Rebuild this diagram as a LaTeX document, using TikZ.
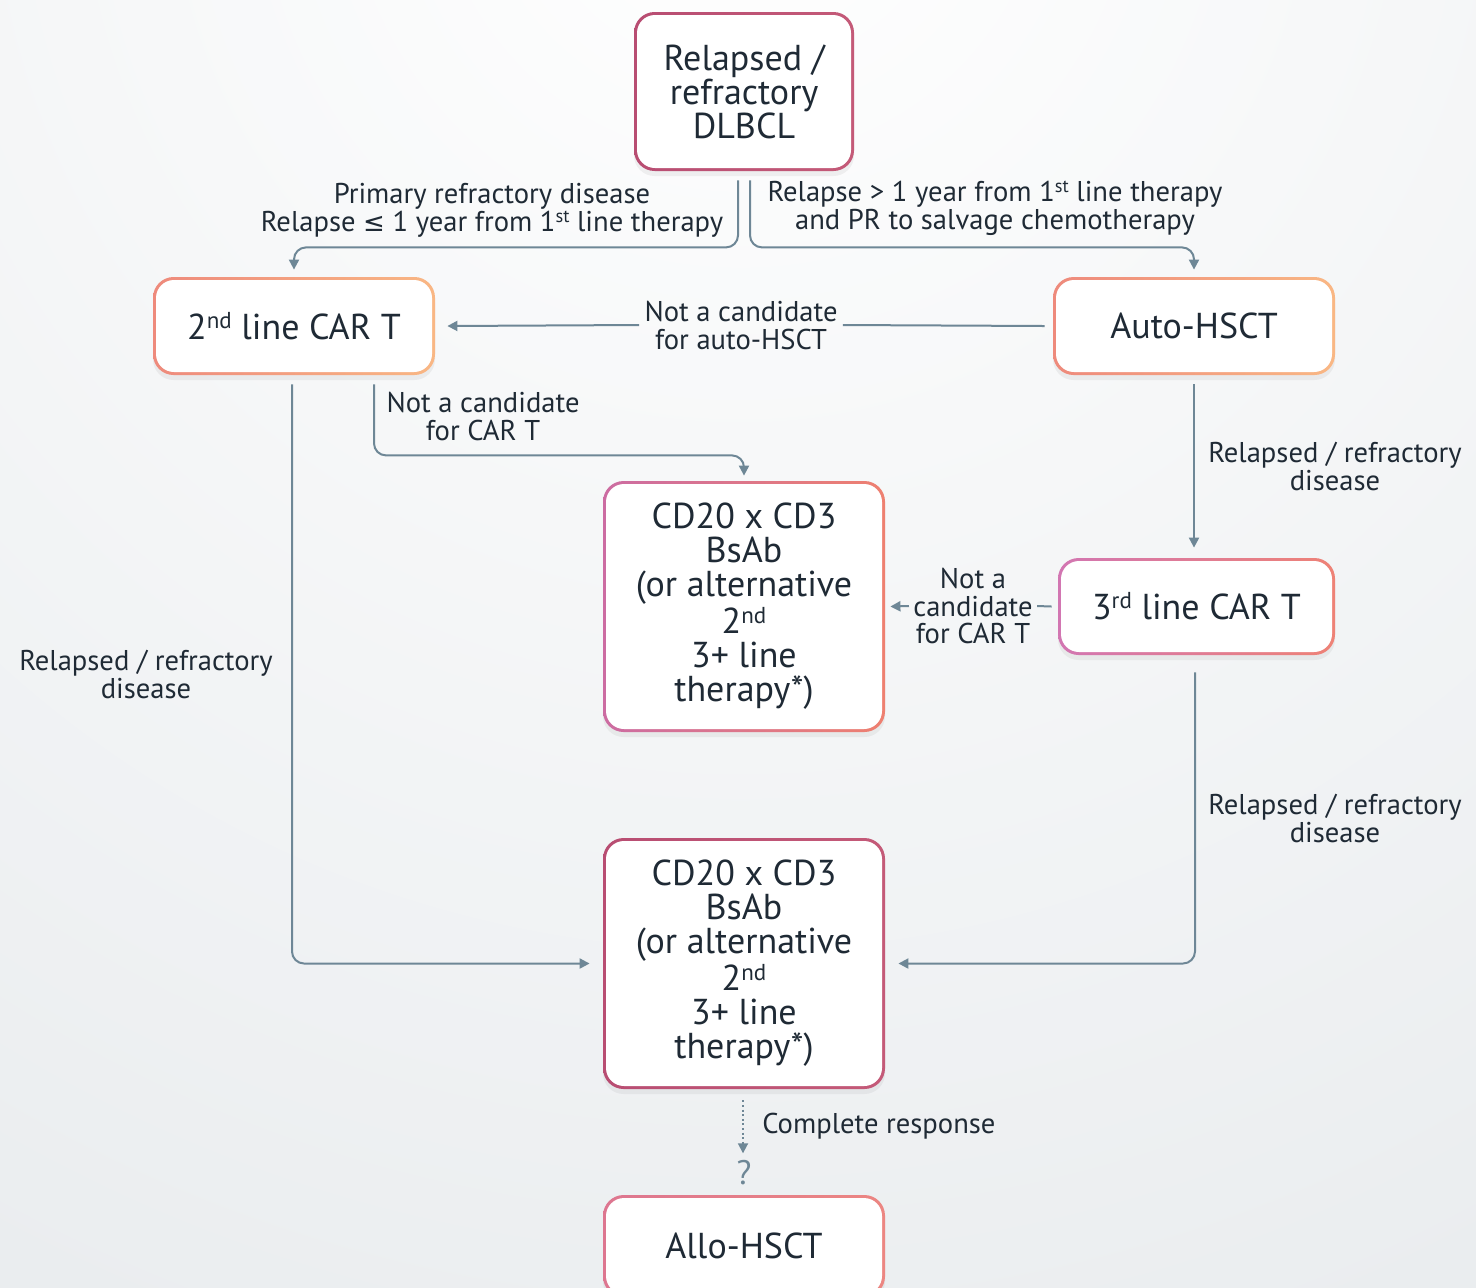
\documentclass[tikz,border=0pt]{standalone}
\usepackage{fontspec}
\setmainfont{PT Sans}
\newfontfamily\symf{DejaVu Sans}
\usetikzlibrary{arrows.meta,calc,shadows}
\definecolor{ink}{HTML}{1F2A35}
\definecolor{linec}{HTML}{6E8796}
\definecolor{bgc}{HTML}{E2E6E9}
\pgfdeclarelayer{bgz}
\pgfdeclarelayer{bord}
\pgfsetlayers{bgz,bord,main}
\newcommand\supx[1]{\raisebox{0.3em}{\scalebox{0.64}{#1}}}
\newcommand\gbord[3]{%
  \definecolor{gbA}{HTML}{#2}\definecolor{gbB}{HTML}{#3}%
  \begin{pgfonlayer}{bord}
  \path[left color=gbA,right color=gbB,rounded corners=10.3pt,
        drop shadow={opacity=0.10,shadow xshift=0pt,shadow yshift=-2.5pt}]
    ([shift={(-1.3pt,1.3pt)}]#1.north west) rectangle ([shift={(1.3pt,-1.3pt)}]#1.south east);
  \end{pgfonlayer}}
\begin{document}
\begin{tikzpicture}[x=0.5pt,y=-0.5pt,
  box/.style={fill=white, rounded corners=9pt, align=center, text=ink,
    font=\fontsize{18}{17}\selectfont, inner sep=0pt},
  wide/.style={box, minimum width=138pt, minimum height=46pt},
  bsbox/.style={box, minimum width=138pt, minimum height=122.5pt},
  lab/.style={font=\fontsize{14.3}{14}\selectfont, text=ink, align=center, inner sep=2.5pt},
  cline/.style={draw=linec, line width=1pt, rounded corners=6pt},
  carrow/.style={cline, -{Triangle[length=5pt,width=5pt]}}]
\useasboundingbox (0,0) rectangle (1476,1287);
\begin{pgfonlayer}{bgz}
  \clip (0,0) rectangle (1476,1287);
  \fill[bgc] (0,0) rectangle (1476,1287);
  \shade[inner color=white, outer color=bgc] (740,-150) circle (1100pt);
\end{pgfonlayer}

% boxes
\node[box, minimum width=107pt, minimum height=76.5pt] (top) at (744,91.5) {Relapsed /\\refractory\\DLBCL};
\node[wide] (cart2) at (294,326) {2\supx{nd} line CAR T};
\node[wide] (auto) at (1194,326) {Auto-HSCT};
\node[bsbox] (bs1) at (744,606.5) {CD20 x CD3\\BsAb\\(or alternative\\2\supx{nd}\\3+ line\\therapy*)};
\node[box, minimum width=135.5pt, minimum height=45.5pt] (cart3) at (1196.5,606.5) {3\supx{rd} line CAR T};
\node[bsbox] (bs2) at (744,963.5) {CD20 x CD3\\BsAb\\(or alternative\\2\supx{nd}\\3+ line\\therapy*)};
\node[box, minimum width=138pt, minimum height=48pt] (allo) at (744,1246) {Allo-HSCT};

\gbord{top}{B84D72}{C45A78}
\gbord{cart2}{EE8A7C}{F9B784}
\gbord{auto}{EE8A7C}{F9B784}
\gbord{bs1}{CC6CA2}{EE8070}
\gbord{cart3}{D276B2}{EE8276}
\gbord{bs2}{B84D72}{C45A78}
\gbord{allo}{DD7690}{EC8682}

% labels
\node[lab] (l1) at (492,210) {Primary refractory disease\\Relapse {\symf\fontsize{13}{14}\selectfont ≤} 1 year from 1\supx{st} line therapy};
\node[lab] (l2) at (995,208) {Relapse > 1 year from 1\supx{st} line therapy\\and PR to salvage chemotherapy};
\node[lab] (l3) at (741,325) {Not a candidate\\for auto-HSCT};
\node[lab] (l4) at (483,416) {Not a candidate\\for CAR T};
\node[lab] (l5) at (146,674) {Relapsed / refractory\\disease};
\node[lab] (l6) at (1335,466) {Relapsed / refractory\\disease};
\node[lab, inner sep=2pt, font=\fontsize{14.3}{13.75}\selectfont] (l7) at (973,606) {Not a\\candidate\\for CAR T};
\node[lab] (l8) at (1335,818) {Relapsed / refractory\\disease};
\node[lab, anchor=west] (cr) at (757,1126) {Complete response};
\node[lab, text=linec, inner sep=0pt, font=\fontsize{17}{17}\selectfont] (q) at (744,1173) {?};

% connectors
\draw[carrow] ([xshift=-3pt,yshift=-6pt]top.south) -- ++(0,67) -| ([yshift=5pt]cart2.north);
\draw[carrow] ([xshift=3pt,yshift=-6pt]top.south) -- ++(0,67) -| ([yshift=5pt]auto.north);
\draw[cline] ([xshift=-5.5pt]auto.west) -- (l3.east);
\draw[carrow] (l3.west) -- ([xshift=7.5pt]cart2.east);
\draw[carrow] ([xshift=40pt,yshift=-6pt]cart2.south) -- ++(0,71) -| ([yshift=4pt]bs1.north);
\draw[carrow] ([xshift=-1pt,yshift=-6pt]cart2.south) |- ([xshift=-8pt]bs2.west);
\draw[carrow] ([yshift=-6pt]auto.south) -- ([yshift=6.5pt]cart3.north -| auto.south);
\draw[cline] ([xshift=-4.5pt]cart3.west) -- (l7.east);
\draw[carrow] (l7.west) -- ([xshift=4pt]bs1.east);
\draw[carrow] ([xshift=-0.75pt,yshift=-10pt]cart3.south) |- ([xshift=8pt]bs2.east);
\draw[draw=linec, line width=0.9pt, dash pattern=on 1pt off 1.3pt, -{Triangle[length=5pt,width=5pt]}]
  ([xshift=-0.5pt,yshift=-7pt]bs2.south) -- ([xshift=-0.5pt,yshift=3.5pt]q.north);
\end{tikzpicture}
\end{document}
